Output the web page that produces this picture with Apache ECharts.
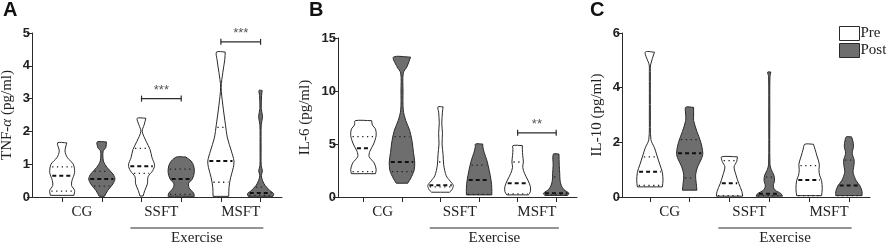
<!DOCTYPE html>
<html>
<head>
<meta charset="utf-8">
<script src="https://cdn.jsdelivr.net/npm/echarts@6/dist/echarts.min.js"></script>
<style>
  html, body { margin: 0; padding: 0; background: #fff; }
  #chart { width: 892px; height: 246px; }
</style>
</head>
<body>
<div id="chart"></div>
<script>
// groups along the x axis, each with a Pre and a Post violin
const groups = ['CG', 'SSFT', 'MSFT'];
const phases = ['Pre', 'Post'];

// violin outlines: [value, relative half-width], bottom to top
// order: CG pre, CG post, SSFT pre, SSFT post, MSFT pre, MSFT post
const tnfShapes = [
  [[0.05, 0.9], [0.2, 0.95], [0.35, 0.72], [0.5, 0.75], [0.75, 0.95], [1.0, 0.85], [1.2, 0.4], [1.4, 0.22], [1.65, 0.35]],
  [[0.02, 0.2], [0.2, 0.45], [0.4, 0.85], [0.55, 1.0], [0.7, 0.85], [0.9, 0.4], [1.1, 0.12], [1.4, 0.1], [1.5, 0.3], [1.68, 0.35]],
  [[0.03, 0.12], [0.2, 0.25], [0.4, 0.45], [0.62, 0.5], [0.8, 0.85], [0.97, 1.0], [1.2, 0.8], [1.45, 0.65], [1.7, 0.35], [2.0, 0.05], [2.2, 0.2], [2.4, 0.33]],
  [[0.02, 1.0], [0.12, 0.95], [0.25, 0.65], [0.4, 0.55], [0.55, 0.85], [0.75, 1.0], [0.95, 0.95], [1.1, 0.75], [1.22, 0.35]],
  [[0.02, 0.6], [0.3, 0.62], [0.6, 0.75], [0.9, 0.95], [1.1, 1.0], [1.4, 0.8], [1.8, 0.5], [2.2, 0.35], [2.8, 0.15], [3.35, 0.02], [3.8, 0.15], [4.2, 0.3], [4.42, 0.33]],
  [[0.02, 0.95], [0.1, 1.0], [0.2, 0.7], [0.35, 0.35], [0.5, 0.15], [0.65, 0.06], [0.8, 0.14], [0.95, 0.05], [1.5, 0.04], [2.2, 0.05], [2.45, 0.15], [2.7, 0.05], [3.1, 0.08], [3.25, 0.12]]
];
// [Q1, median, Q3]
const tnfStats = [[0.18, 0.65, 0.92], [0.33, 0.55, 0.78], [0.72, 0.94, 1.48], [0.08, 0.55, 0.85], [0.45, 1.1, 2.12], [0.05, 0.12, 0.3]];
// [from index, to index, value, stars]
const tnfSig = [[2, 3, 3.0, '***'], [4, 5, 4.73, '***']];

const il6Shapes = [
  [[2.2, 0.95], [2.6, 1.0], [3.2, 0.85], [3.8, 0.45], [4.3, 0.5], [5.0, 0.8], [5.8, 1.0], [6.4, 0.95], [6.8, 0.7], [7.2, 0.65]],
  [[1.3, 0.45], [1.8, 0.7], [2.5, 0.95], [3.3, 1.0], [4.2, 0.9], [5.2, 0.8], [6.3, 0.6], [7.2, 0.3], [8.2, 0.1], [10, 0.08], [11.7, 0.1], [12.3, 0.4], [13.2, 0.67]],
  [[0.45, 0.7], [0.7, 0.9], [1.1, 1.0], [1.5, 0.75], [2.0, 0.45], [3.0, 0.25], [4.0, 0.2], [5.0, 0.12], [6.0, 0.15], [7.0, 0.1], [8.0, 0.15], [8.5, 0.2]],
  [[0.2, 1.0], [0.8, 1.0], [1.5, 0.95], [2.5, 0.8], [3.5, 0.6], [4.2, 0.4], [4.7, 0.3], [5.0, 0.28]],
  [[0.2, 0.85], [0.5, 1.0], [1.0, 1.0], [1.6, 0.8], [2.2, 0.55], [2.8, 0.4], [3.3, 0.45], [3.9, 0.4], [4.5, 0.37], [4.85, 0.37]],
  [[0.15, 0.9], [0.35, 1.0], [0.7, 0.6], [1.1, 0.4], [1.6, 0.3], [2.2, 0.28], [3.0, 0.24], [4.05, 0.22]]
];
const il6Stats = [[2.4, 4.6, 5.7], [2.4, 3.3, 5.7], [0.95, 1.1, 3.3], [0.25, 1.6, 3.0], [0.3, 1.3, 3.3], [0.2, 0.35, 1.9]];
const il6Sig = [[4, 5, 6.05, '**']];

const il10Shapes = [
  [[0.37, 0.95], [0.6, 1.0], [0.9, 0.95], [1.2, 0.75], [1.5, 0.55], [1.8, 0.35], [2.1, 0.08], [3.0, 0.04], [4.6, 0.04], [4.83, 0.05], [5.3, 0.35]],
  [[0.25, 0.55], [0.5, 0.5], [0.8, 0.45], [1.1, 0.6], [1.4, 0.9], [1.6, 1.0], [2.0, 0.85], [2.4, 0.55], [2.8, 0.3], [3.0, 0.3], [3.28, 0.3]],
  [[0.03, 1.0], [0.2, 0.95], [0.5, 0.7], [0.8, 0.5], [1.1, 0.35], [1.3, 0.55], [1.47, 0.6]],
  [[0.03, 1.0], [0.12, 0.9], [0.25, 0.45], [0.4, 0.3], [0.6, 0.4], [0.8, 0.35], [1.0, 0.15], [1.2, 0.05], [3.0, 0.04], [4.4, 0.05], [4.57, 0.12]],
  [[0.05, 0.95], [0.3, 1.0], [0.6, 0.95], [0.8, 0.8], [1.0, 0.75], [1.2, 0.78], [1.5, 0.6], [1.75, 0.45], [1.93, 0.33]],
  [[0.05, 1.0], [0.2, 1.0], [0.4, 0.85], [0.6, 0.55], [0.9, 0.32], [1.15, 0.38], [1.35, 0.4], [1.6, 0.25], [1.85, 0.35], [2.05, 0.3], [2.2, 0.2]]
];
const il10Stats = [[0.42, 0.92, 1.47], [0.7, 1.6, 2.1], [0.05, 0.5, 1.33], [0.05, 0.12, 0.73], [0.05, 0.62, 1.15], [0.05, 0.42, 1.35]];
const il10Sig = [];

// "Exercise" bracket spans from SSFT pre to MSFT post (offsets in x units)
const exerciseSpan = [1.72, 5.07];

const SERIF = '"Liberation Serif", "DejaVu Serif", serif';
const SANS = '"Liberation Sans", Arial, sans-serif';
const INK = '#2a2a2a';
const FILL = { Pre: '#ffffff', Post: '#6e6e6e' };
const HALF = 0.33; // violin half-width at relative width 1, in x units

const panels = [
  { letter: 'A', shapes: tnfShapes, stats: tnfStats, sig: tnfSig, yMax: 5, yStep: 1,
    name: '{t|TNF-}{i|α}{t| (pg/ml)}', nameGap: 17, x0: 0.76, xMax: 6.3,
    grid: { left: 32, top: 33, width: 250, height: 164 }, letterLeft: 3 },
  { letter: 'B', shapes: il6Shapes, stats: il6Stats, sig: il6Sig, yMax: 15, yStep: 5,
    name: '{t|IL-6 (pg/ml)}', nameGap: 25, x0: 0.66, xMax: 6.2,
    grid: { left: 338, top: 38, width: 239, height: 159 }, letterLeft: 309 },
  { letter: 'C', shapes: il10Shapes, stats: il10Stats, sig: il10Sig, yMax: 6, yStep: 2,
    name: '{t|IL-10 (pg/ml)}', nameGap: 17, x0: 0.7, xMax: 6.23,
    grid: { left: 622, top: 33, width: 248, height: 164 }, letterLeft: 590 }
];

function widthAt(shape, v) {
  if (v <= shape[0][0]) return shape[0][1];
  for (let i = 1; i < shape.length; i++) {
    if (v <= shape[i][0]) {
      const [a, wa] = shape[i - 1], [b, wb] = shape[i];
      return wa + (wb - wa) * (v - a) / (b - a);
    }
  }
  return shape[shape.length - 1][1];
}

function violinRenderer(P, phase) {
  return function (params, api) {
    const xv = api.value(0);
    const k = api.value(1);
    const shape = P.shapes[k];
    const st = P.stats[k];
    const cx = api.coord([xv, 0])[0];
    const hw = api.size([HALF, 0])[0];
    const y = v => api.coord([xv, v])[1];
    const right = shape.map(([v, w]) => [cx + w * hw, y(v)]);
    const left = shape.slice().reverse().map(([v, w]) => [cx - w * hw, y(v)]);
    const first = right[0], top = right[right.length - 1];
    const pts = [first].concat(right, [top], left, [left[left.length - 1]]);
    const children = [{
      type: 'polygon',
      shape: { points: pts, smooth: 0.3 },
      style: { fill: FILL[phase], stroke: INK, lineWidth: 1 }
    }];
    st.forEach((v, j) => {
      const half = Math.max(widthAt(shape, v) * hw - 1.5, 1);
      children.push({
        type: 'line',
        shape: { x1: cx - half, y1: y(v), x2: cx + half, y2: y(v) },
        style: j === 1
          ? { stroke: '#111', lineWidth: 2, lineDash: [4, 3] }
          : { stroke: '#222', lineWidth: 1.3, lineDash: [1.3, 3.5] }
      });
    });
    return { type: 'group', children };
  };
}

function sigRenderer(P) {
  return function (params, api) {
    const a = api.coord([api.value(0), api.value(2)]);
    const b = api.coord([api.value(1), api.value(2)]);
    const s = { stroke: INK, lineWidth: 1.2 };
    return {
      type: 'group',
      children: [
        { type: 'line', shape: { x1: a[0], y1: a[1], x2: b[0], y2: b[1] }, style: s },
        { type: 'line', shape: { x1: a[0], y1: a[1] - 3, x2: a[0], y2: a[1] + 3 }, style: s },
        { type: 'line', shape: { x1: b[0], y1: b[1] - 3, x2: b[0], y2: b[1] + 3 }, style: s },
        { type: 'text', style: { text: P.sig[params.dataIndex][3], x: (a[0] + b[0]) / 2, y: a[1] - 2,
            align: 'center', verticalAlign: 'bottom', fill: '#555',
            font: '13px ' + SANS } }
      ]
    };
  };
}

function exerciseRenderer(params, api) {
  const a = api.coord([api.value(0), 0]);
  const b = api.coord([api.value(1), 0]);
  return {
    type: 'line',
    shape: { x1: a[0], y1: a[1] + 31, x2: b[0], y2: b[1] + 31 },
    style: { stroke: INK, lineWidth: 1 }
  };
}

const option = {
  animation: false,
  textStyle: { fontFamily: SERIF },
  title: panels.map(P => ({
    text: P.letter, left: P.letterLeft, top: 0, padding: 0,
    textStyle: { fontFamily: SANS, fontWeight: 'bold', fontSize: 20, color: '#111' }
  })),
  legend: {
    data: phases, orient: 'vertical', left: 839, top: 26, padding: 0,
    icon: 'path://M0,0H20V14H0Z',
    itemWidth: 20, itemHeight: 14, itemGap: 2, selectedMode: false,
    itemStyle: { borderColor: INK, borderWidth: 1 },
    textStyle: { fontFamily: SERIF, fontSize: 15, color: '#222', padding: [0, 0, 0, -4] }
  },
  grid: panels.map(P => Object.assign({ outerBoundsMode: 'none', containLabel: false }, P.grid)),
  xAxis: panels.map((P, gi) => {
    // shift the axis name so it sits under the middle of the Exercise line
    const mid = P.x0 + (exerciseSpan[0] + exerciseSpan[1]) / 2;
    const shift = (mid - P.xMax / 2) * P.grid.width / P.xMax;
    return {
      type: 'value', gridIndex: gi, min: 0, max: P.xMax,
      splitLine: { show: false },
      axisLine: { lineStyle: { color: INK, width: 1 } },
      axisTick: { show: true, length: 5, lineStyle: { color: INK },
        customValues: [0, 1, 2, 3, 4, 5].map(i => P.x0 + i) },
      axisLabel: {
        customValues: groups.map((g, i) => P.x0 + 2 * i + 0.5),
        formatter: v => groups[Math.round((v - P.x0 - 0.5) / 2)],
        margin: 8, fontFamily: SERIF, fontSize: 15, color: '#222'
      },
      name: 'Exercise', nameLocation: 'middle', nameGap: 34,
      nameTextStyle: { fontFamily: SERIF, fontSize: 15, color: '#222',
        padding: [0, 0, 0, 2 * shift] }
    };
  }),
  yAxis: panels.map((P, gi) => ({
    type: 'value', gridIndex: gi, min: 0, max: P.yMax, interval: P.yStep,
    splitLine: { show: false },
    axisLine: { show: true, lineStyle: { color: INK, width: 1 } },
    axisTick: { show: true, length: 5, lineStyle: { color: INK } },
    axisLabel: { margin: 2, fontFamily: SANS, fontWeight: 'bold', fontSize: 13, color: '#222' },
    name: P.name, nameLocation: 'middle', nameGap: P.nameGap,
    nameTextStyle: {
      fontSize: 15, fontFamily: SERIF,
      rich: {
        t: { fontFamily: SERIF, fontSize: 15, color: '#222' },
        i: { fontFamily: SERIF, fontSize: 15, fontStyle: 'italic', color: '#222' }
      }
    }
  })),
  series: []
};

panels.forEach((P, gi) => {
  phases.forEach((ph, pi) => {
    option.series.push({
      type: 'custom', name: ph, xAxisIndex: gi, yAxisIndex: gi,
      itemStyle: { color: FILL[ph], borderColor: INK, borderWidth: 1 },
      renderItem: violinRenderer(P, ph),
      data: [0, 1, 2].map(g => [P.x0 + 2 * g + pi, 2 * g + pi]),
      clip: false
    });
  });
  option.series.push({
    type: 'custom', xAxisIndex: gi, yAxisIndex: gi, renderItem: sigRenderer(P), clip: false,
    data: P.sig.map(s => [P.x0 + s[0], P.x0 + s[1], s[2]])
  });
  option.series.push({
    type: 'custom', xAxisIndex: gi, yAxisIndex: gi, renderItem: exerciseRenderer, clip: false,
    data: [[P.x0 + exerciseSpan[0], P.x0 + exerciseSpan[1]]]
  });
});

const chart = echarts.init(document.getElementById('chart'));
chart.setOption(option);
window.addEventListener('resize', () => chart.resize());
</script>
</body>
</html>
